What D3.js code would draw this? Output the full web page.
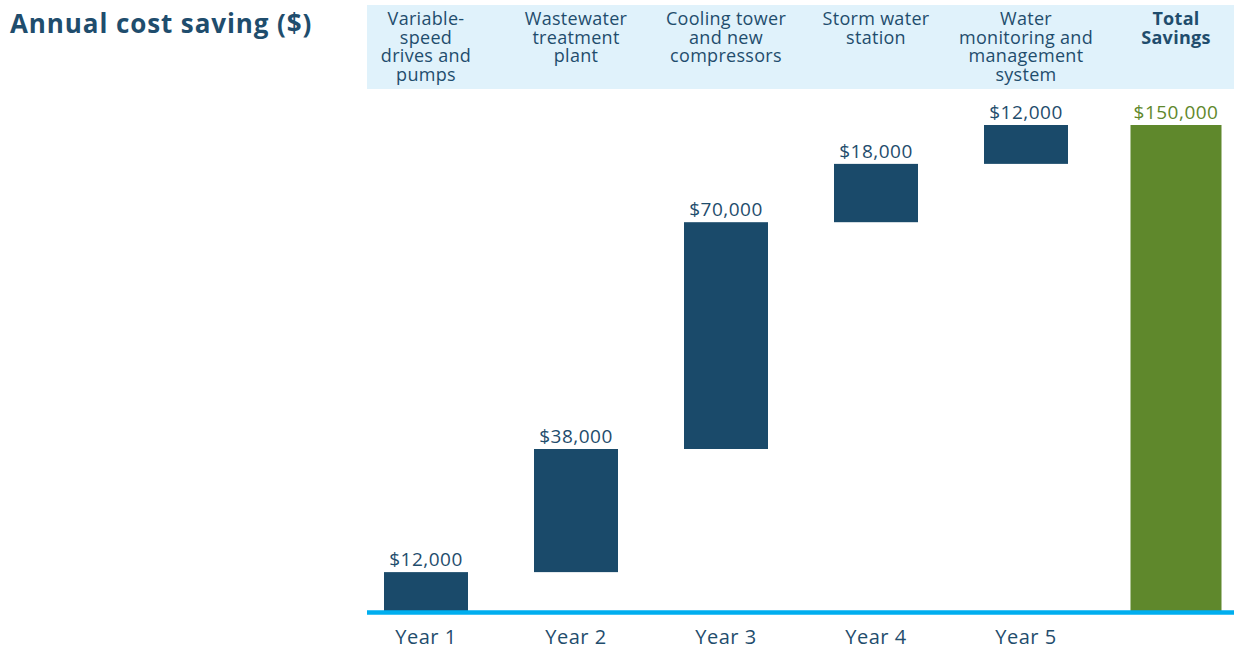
<!DOCTYPE html>
<html>
<head>
<meta charset="utf-8">
<script src="https://cdn.jsdelivr.net/npm/d3@7"></script>
<style>
  body { margin: 0; background: #fff; }
  svg { display: block; font-family: "Open Sans", Lato, sans-serif; }
</style>
</head>
<body>
<svg id="chart" width="1234" height="649"></svg>
<script>
// data
const categories = [
  ['Variable-', 'speed', 'drives and', 'pumps'],
  ['Wastewater', 'treatment', 'plant'],
  ['Cooling tower', 'and new', 'compressors'],
  ['Storm water', 'station'],
  ['Water', 'monitoring and', 'management', 'system'],
  ['Total', 'Savings']
];
const years = ['Year 1', 'Year 2', 'Year 3', 'Year 4', 'Year 5', ''];
const savings = [12000, 38000, 70000, 18000, 12000];
const total = 150000;
const title = 'Annual cost saving ($)';

const dark = '#1a4a6a';
const green = '#5f882c';
const textCol = '#1f4d6d';

let svg = d3.select('#chart');

let x = d3.scaleBand()
  .domain(d3.range(categories.length))
  .range([351, 1251]);

let y = d3.scaleLinear()
  .domain([0, total])
  .range([611, 125]);

let fmt = d => '$' + d3.format(',')(d);

// title
svg.append('text')
  .attr('x', 10)
  .attr('y', 33)
  .attr('fill', textCol)
  .style('font-size', '26px')
  .style('font-weight', 'bold')
  .style('letter-spacing', '0.9px')
  .text(title);

// header band
svg.append('rect')
  .attr('x', 367)
  .attr('y', 5)
  .attr('width', 1234 - 367)
  .attr('height', 84)
  .attr('fill', '#e0f2fb');

categories.forEach((lines, i) => {
  let t = svg.append('text')
    .attr('x', x(i) + x.bandwidth() / 2)
    .attr('y', 25)
    .attr('text-anchor', 'middle')
    .attr('fill', textCol)
    .style('font-size', '18px')
    .style('letter-spacing', '0.3px')
    .style('font-weight', i == categories.length - 1 ? 'bold' : 'normal');
  lines.forEach((l, j) => {
    t.append('tspan')
      .attr('x', x(i) + x.bandwidth() / 2)
      .attr('dy', j == 0 ? 0 : 18.5)
      .text(l);
  });
});

// waterfall steps
let steps = [];
let run = 0;
savings.forEach((v, i) => {
  steps.push({ i: i, start: run, end: run + v, value: v, total: false });
  run += v;
});
steps.push({ i: savings.length, start: 0, end: total, value: total, total: true });

let barW = 84;
svg.selectAll('rect.bar')
  .data(steps)
  .enter()
  .append('rect')
  .attr('class', 'bar')
  .attr('x', d => x(d.i) + x.bandwidth() / 2 - (d.total ? 91 : barW) / 2)
  .attr('width', d => d.total ? 91 : barW)
  .attr('y', d => y(d.end))
  .attr('height', d => y(d.start) - y(d.end))
  .attr('fill', d => d.total ? green : dark);

svg.selectAll('text.val')
  .data(steps)
  .enter()
  .append('text')
  .attr('class', 'val')
  .attr('x', d => x(d.i) + x.bandwidth() / 2)
  .attr('y', d => y(d.end) - 6)
  .attr('text-anchor', 'middle')
  .attr('fill', d => d.total ? green : textCol)
  .style('font-size', '19px')
  .style('letter-spacing', '0.5px')
  .text(d => fmt(d.value));

// baseline
svg.append('line')
  .attr('x1', 367)
  .attr('x2', 1234)
  .attr('y1', y(0) + 1.5)
  .attr('y2', y(0) + 1.5)
  .attr('stroke', '#00aeef')
  .attr('stroke-width', 4.5);

// year labels
svg.selectAll('text.year')
  .data(years)
  .enter()
  .append('text')
  .attr('class', 'year')
  .attr('x', (d, i) => x(i) + x.bandwidth() / 2)
  .attr('y', 644)
  .attr('text-anchor', 'middle')
  .attr('fill', textCol)
  .style('font-size', '20px')
  .style('letter-spacing', '0.5px')
  .text(d => d);
</script>
</body>
</html>
